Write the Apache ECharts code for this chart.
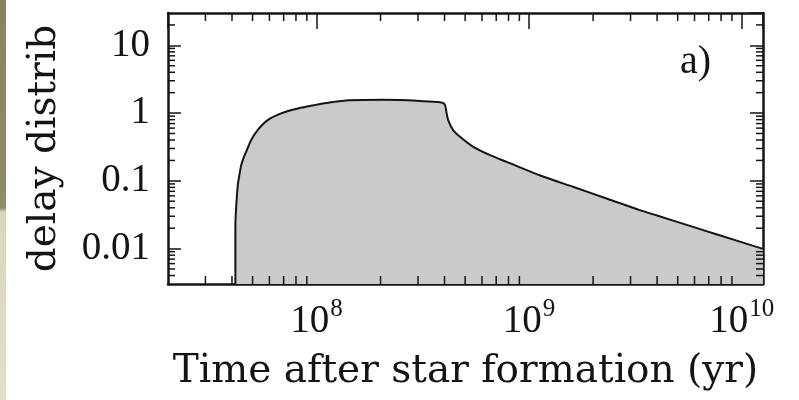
<!DOCTYPE html>
<html>
<head>
<meta charset="utf-8">
<script src="https://cdn.jsdelivr.net/npm/echarts@6/dist/echarts.min.js"></script>
<style>
  html, body { margin: 0; padding: 0; background: #ffffff; }
  #chart { width: 799px; height: 400px; }
</style>
</head>
<body>
<div id="chart"></div>
<script>
// Delay-time distribution versus time after star formation
const times = [4.15e7, 4.15e7, 4.20e7, 4.26e7, 4.34e7, 4.42e7, 4.54e7, 4.66e7, 4.92e7, 5.28e7,
  5.89e7, 6.81e7, 8.17e7, 9.8e7, 1.17e8, 1.43e8, 2.05e8, 2.46e8, 3.06e8, 3.80e8,
  3.95e8, 4.03e8, 4.09e8, 4.16e8, 4.39e8, 4.73e8, 5.46e8, 6.55e8, 7.85e8, 1.127e9,
  1.62e9, 2.33e9, 3.34e9, 4e9, 5.96e9, 7.67e9, 1.26e10];
const delay = [0.001, 0.022, 0.0485, 0.0857, 0.125, 0.170, 0.220, 0.267, 0.398, 0.561,
  0.788, 0.99, 1.17, 1.31, 1.44, 1.54, 1.57, 1.56, 1.51, 1.45,
  1.40, 1.28, 1.0, 0.787, 0.560, 0.446, 0.317, 0.239, 0.190, 0.120,
  0.081, 0.0545, 0.0366, 0.0307, 0.0207, 0.0161, 0.0099];

// Axis ranges and tick labels
const xRange = [2e7, 1.26e10];
const yRange = [0.003, 30];
const yTickExps = [-2, -1, 0, 1];
const yTickLabels = ['0.01', '0.1', '1', '10'];
const xMinorTicks = [3e7, 4e7, 5e7, 6e7, 7e7, 8e7, 9e7,
  2e8, 3e8, 4e8, 5e8, 6e8, 7e8, 8e8, 9e8,
  2e9, 3e9, 4e9, 5e9, 6e9, 7e9, 8e9, 9e9];
const yMinorTicks = [0.004, 0.005, 0.006, 0.007, 0.008, 0.009,
  0.02, 0.03, 0.04, 0.05, 0.06, 0.07, 0.08, 0.09,
  0.2, 0.3, 0.4, 0.5, 0.6, 0.7, 0.8, 0.9,
  2, 3, 4, 5, 6, 7, 8, 9, 20];

const INK = '#141414';
const LABEL_FONT = 'Liberation Serif';
const TITLE_FONT = 'DejaVu Serif';
const X_MINOR_LEN = 8, Y_MINOR_LEN = 7;

const chart = echarts.init(document.getElementById('chart'), null, { renderer: 'canvas' });

function tickLine(x1, y1, x2, y2) {
  return { type: 'line', shape: { x1, y1, x2, y2 }, style: { stroke: INK, lineWidth: 1.5 } };
}

function xMinorItem(params, api) {
  const v = api.value(0);
  const b = api.coord([v, yRange[0]]);
  const t = api.coord([v, yRange[1]]);
  return { type: 'group', children: [
    tickLine(b[0], b[1], b[0], b[1] - X_MINOR_LEN),
    tickLine(t[0], t[1], t[0], t[1] + X_MINOR_LEN)
  ] };
}

function yMinorItem(params, api) {
  const v = api.value(1);
  const l = api.coord([xRange[0], v]);
  const r = api.coord([xRange[1], v]);
  return { type: 'group', children: [
    tickLine(l[0], l[1], l[0] + Y_MINOR_LEN, l[1]),
    tickLine(r[0], r[1], r[0] - Y_MINOR_LEN, r[1])
  ] };
}

const boxLine = { show: true, onZero: false, lineStyle: { color: INK, width: 2.5 } };

const option = {
  backgroundColor: '#ffffff',
  animation: false,
  grid: { left: 168, right: 36, top: 13, bottom: 116, containLabel: false },
  xAxis: [
    {
      type: 'log', logBase: 10, min: xRange[0], max: xRange[1], position: 'bottom',
      axisLine: boxLine,
      axisTick: { show: true, inside: true, length: 16, lineStyle: { color: INK, width: 1.5 } },
      splitLine: { show: false },
      axisLabel: {
        margin: 13, showMinLabel: false, showMaxLabel: false,
        formatter: function (v) { return '{b|10}{s|' + Math.round(Math.log10(v)) + '}'; },
        rich: {
          b: { fontFamily: LABEL_FONT, fontSize: 39, color: INK, lineHeight: 44, verticalAlign: 'bottom' },
          s: { fontFamily: LABEL_FONT, fontSize: 25, color: INK, lineHeight: 26, verticalAlign: 'top', padding: [0, 0, 0, 1] }
        }
      },
      name: 'Time after star formation (yr)', nameLocation: 'middle', nameGap: 68,
      nameTextStyle: { fontFamily: TITLE_FONT, fontSize: 39, color: INK }
    },
    {
      type: 'log', logBase: 10, min: xRange[0], max: xRange[1], position: 'top',
      axisLine: boxLine,
      axisTick: { show: true, inside: true, length: 16, lineStyle: { color: INK, width: 1.5 } },
      splitLine: { show: false }, axisLabel: { show: false }
    }
  ],
  yAxis: [
    {
      type: 'log', logBase: 10, min: yRange[0], max: yRange[1], position: 'left',
      axisLine: boxLine,
      axisTick: { show: true, inside: true, length: 13, lineStyle: { color: INK, width: 1.5 } },
      splitLine: { show: false },
      axisLabel: {
        margin: 18, showMinLabel: false, showMaxLabel: false,
        fontFamily: LABEL_FONT, fontSize: 39, color: INK,
        formatter: function (v) {
          const i = yTickExps.indexOf(Math.round(Math.log10(v)));
          return i >= 0 ? yTickLabels[i] : '';
        }
      },
      name: 'delay distrib', nameLocation: 'middle', nameGap: 104, nameRotate: 90,
      nameTextStyle: { fontFamily: TITLE_FONT, fontSize: 39, color: INK }
    },
    {
      type: 'log', logBase: 10, min: yRange[0], max: yRange[1], position: 'right',
      axisLine: boxLine,
      axisTick: { show: true, inside: true, length: 13, lineStyle: { color: INK, width: 1.5 } },
      splitLine: { show: false }, axisLabel: { show: false }
    }
  ],
  graphic: [
    {
      type: 'rect', left: 0, top: 0, z: -10,
      shape: { width: 6, height: 400 },
      style: {
        fill: new echarts.graphic.LinearGradient(0, 0, 0, 1, [
          { offset: 0, color: '#858660' },
          { offset: 0.52, color: '#8d8d66' },
          { offset: 0.53, color: '#d9d6bd' },
          { offset: 1, color: '#e2dfca' }
        ])
      }
    },
    {
      type: 'text', left: 680, top: 42, z: 10,
      style: { text: 'a)', font: '40px "Liberation Serif"', fill: INK }
    }
  ],
  series: [
    {
      type: 'line', xAxisIndex: 0, yAxisIndex: 0,
      data: times.map((t, i) => [t, delay[i]]),
      showSymbol: false, smooth: 0.25, clip: true,
      lineStyle: { color: INK, width: 2 },
      areaStyle: { color: '#cacaca', opacity: 1, origin: 'start' },
      z: 2
    },
    {
      type: 'custom', xAxisIndex: 0, yAxisIndex: 0, silent: true, z: 5,
      renderItem: xMinorItem,
      data: xMinorTicks.map(v => [v, yRange[0]])
    },
    {
      type: 'custom', xAxisIndex: 0, yAxisIndex: 0, silent: true, z: 5,
      renderItem: yMinorItem,
      data: yMinorTicks.map(v => [xRange[0], v])
    }
  ]
};

chart.setOption(option);
</script>
</body>
</html>
